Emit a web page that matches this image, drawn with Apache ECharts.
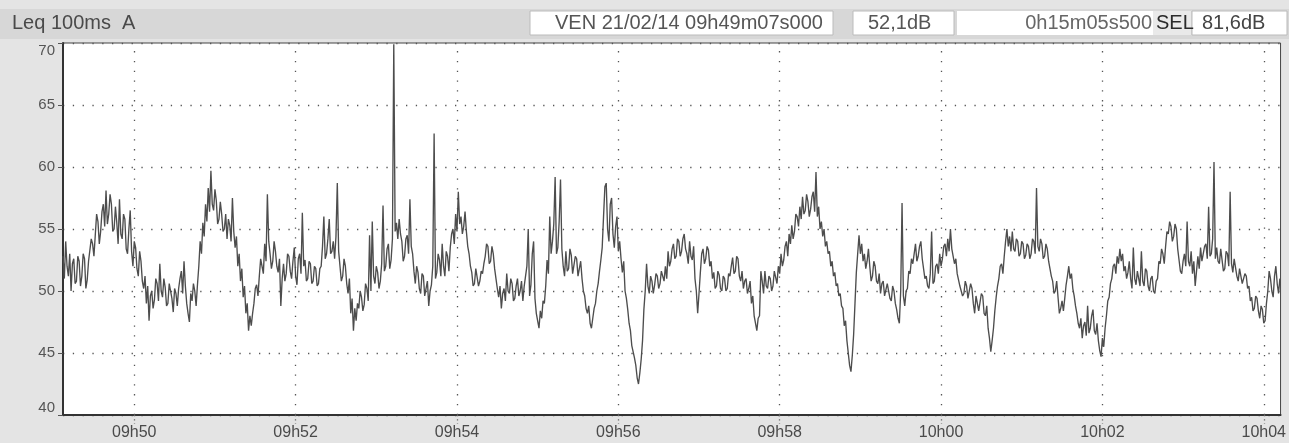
<!DOCTYPE html>
<html><head><meta charset="utf-8">
<script src="https://cdn.jsdelivr.net/npm/echarts@6/dist/echarts.min.js"></script>
<style>html,body{margin:0;padding:0;background:#e4e4e4;}#c{width:1289px;height:443px;}</style>
</head><body><div id="c"></div><script>
// Leq 100ms A, seconds since 09h49m07s000, read every 1 s from the picture
const stepSec = 1;
const durationSec = 905.5;
const leq = [
52.8,51.0,54.0,52.0,51.2,53.0,50.0,52.2,52.6,50.6,50.8,52.8,52.4,50.4,51.2,53.0,52.6,50.2,50.9,52.4,
52.5,54.2,53.8,52.8,54.5,56.2,55.6,53.8,54.8,56.4,57.0,55.2,58.1,55.4,56.2,57.8,57.0,54.8,55.0,56.8,
55.5,53.8,57.4,54.6,54.2,56.2,55.8,53.4,53.0,55.0,56.5,53.2,52.0,54.0,53.5,51.8,51.2,53.2,52.4,50.8,
50.2,51.2,49.0,50.4,47.6,49.6,50.0,48.6,49.3,51.0,50.6,49.2,52.2,50.0,49.5,51.0,50.3,48.8,49.0,50.6,
50.5,49.4,48.3,50.2,49.8,48.8,50.2,51.0,51.6,49.8,52.4,50.4,49.0,48.2,47.5,49.8,49.2,50.6,50.0,48.8,
50.5,52.0,54.0,53.0,55.5,54.4,57.0,55.6,58.3,56.4,59.7,57.0,56.5,58.2,57.3,55.4,55.8,57.2,56.2,54.8,
55.0,56.2,54.2,55.8,55.3,54.0,57.5,54.8,53.5,54.4,52.0,53.0,50.8,51.8,49.5,50.4,48.2,49.0,46.8,48.0,
47.2,48.2,49.0,50.2,50.5,49.6,51.2,52.6,52.5,51.4,53.8,52.4,57.8,54.0,53.0,51.8,52.4,54.0,53.2,52.0,
51.5,52.6,48.8,51.0,52.2,50.8,51.4,53.0,52.8,51.6,51.0,52.4,53.5,51.2,50.5,52.6,53.0,51.4,56.3,52.0,
52.5,50.8,51.0,52.4,52.2,50.6,50.8,52.0,51.8,50.4,50.6,51.8,52.0,53.6,56.0,52.6,53.0,54.2,55.8,53.0,
53.2,54.0,52.6,54.4,58.7,53.2,52.0,50.8,51.2,52.6,52.0,50.6,49.8,51.0,48.2,49.4,46.8,48.6,47.6,49.0,
48.6,50.0,49.5,48.4,48.9,50.6,50.2,49.2,54.5,50.0,55.6,51.2,50.6,52.0,51.5,50.2,50.8,52.2,56.9,51.6,
52.0,53.4,53.8,51.8,52.5,54.2,69.9,54.8,55.5,54.2,55.8,54.6,54.0,52.4,52.8,54.2,54.5,53.0,57.4,53.6,
53.0,51.6,50.6,52.0,51.5,50.2,49.8,51.4,51.2,49.6,49.5,50.8,48.8,50.0,50.5,52.0,62.7,51.0,51.5,53.0,
52.5,51.2,53.8,52.0,51.2,53.2,52.8,51.6,53.5,54.6,55.0,53.8,56.2,54.8,58.0,55.4,56.0,54.6,55.2,56.4,
54.8,53.6,53.0,52.0,51.5,50.4,50.6,51.8,51.8,50.4,50.8,51.6,51.4,52.2,52.8,53.8,53.6,52.2,52.4,53.6,
53.0,51.8,51.0,50.2,49.5,50.4,48.6,49.8,50.2,49.2,51.4,50.0,49.8,51.0,50.6,49.2,49.4,50.4,51.0,49.6,
50.0,50.8,49.2,50.4,50.4,52.0,55.0,49.6,50.5,53.0,54.0,49.4,48.2,47.6,47.0,48.4,47.8,49.2,49.0,50.4,
52.5,51.4,56.0,53.0,54.0,55.4,59.2,53.0,53.5,55.6,59.0,53.4,52.0,51.2,53.2,51.6,51.8,53.4,52.9,51.4,
51.5,52.8,52.6,51.2,51.8,52.4,51.0,50.0,49.6,48.6,48.2,48.8,47.4,47.0,47.8,48.6,49.0,50.0,50.6,51.6,
52.5,53.5,56.0,58.4,58.7,55.0,54.0,57.0,57.5,54.6,53.5,55.2,56.0,53.2,54.0,52.6,51.5,52.4,50.0,49.4,
48.5,47.4,46.8,45.6,45.5,44.6,44.0,43.0,42.5,43.4,44.5,46.0,48.5,50.0,52.2,50.4,49.8,51.2,50.8,49.8,
50.5,51.4,51.2,50.2,50.6,51.6,51.5,50.8,52.0,51.0,53.2,52.0,52.4,53.4,53.8,52.6,52.8,54.2,54.0,52.8,
53.2,54.2,54.6,53.4,53.0,52.2,54.0,52.8,52.5,53.6,51.0,50.0,48.2,49.8,51.5,53.0,53.4,52.2,52.6,53.6,
53.3,52.0,52.4,51.0,51.5,50.2,50.4,51.6,51.3,50.2,50.0,51.2,51.0,50.0,50.2,51.4,51.2,52.0,52.7,51.4,
51.6,52.8,52.6,51.2,50.8,51.6,50.2,50.8,51.0,49.8,50.2,50.8,49.0,49.6,48.0,47.4,46.8,47.8,48.0,51.6,
50.8,49.8,51.6,50.4,50.2,51.2,51.0,50.0,50.4,51.6,51.5,50.6,52.0,51.4,53.0,52.0,52.5,53.6,54.0,52.8,
54.6,53.8,55.3,54.2,54.8,56.2,56.0,55.2,56.8,55.8,57.6,56.2,56.5,57.8,57.2,56.0,56.6,57.6,58.0,56.4,
59.6,56.0,56.8,55.0,55.6,54.4,55.0,53.6,54.0,53.0,53.2,52.0,52.4,51.2,51.5,50.4,50.6,49.6,49.8,48.8,
48.6,47.2,47.6,46.0,45.0,44.0,43.5,44.8,46.5,49.0,51.5,53.0,54.5,53.0,53.8,52.4,53.0,51.8,52.4,53.4,
52.0,50.8,51.2,52.4,52.0,50.8,50.6,51.4,49.8,50.6,50.8,49.6,49.6,50.6,50.5,49.4,49.2,50.4,50.0,49.0,
48.5,47.8,47.4,50.0,57.1,49.6,48.8,50.0,50.2,51.6,51.4,52.6,52.2,53.0,53.8,52.4,52.8,53.6,54.0,52.6,
52.5,51.0,51.2,50.4,50.2,51.4,54.8,50.6,50.8,52.0,52.2,51.4,53.0,52.0,52.6,53.6,53.8,52.8,54.2,53.2,
55.0,53.4,53.5,52.2,52.6,51.4,51.5,50.4,50.5,49.6,49.8,50.8,50.4,49.4,49.5,50.6,50.2,49.0,48.2,49.6,
49.5,48.4,48.3,49.8,49.6,48.2,48.0,48.8,47.0,46.2,45.1,46.0,47.0,48.4,49.5,50.4,51.0,52.0,52.2,51.4,
52.8,54.0,55.0,53.6,54.4,53.2,54.8,53.4,53.2,54.2,54.0,52.8,53.0,54.0,53.8,52.6,52.9,53.8,53.6,52.6,
53.0,54.2,54.0,53.0,58.3,53.6,53.2,54.2,53.8,52.6,52.8,53.8,53.4,52.4,51.8,51.2,50.8,49.8,50.0,50.8,
49.5,48.2,48.6,49.2,48.4,49.4,50.5,51.2,52.0,51.0,51.4,50.2,49.6,48.8,48.2,47.4,47.0,47.8,46.2,47.2,
47.5,46.4,48.8,46.6,47.0,48.0,48.5,46.8,46.5,47.4,46.0,45.2,44.7,46.2,45.5,47.0,48.0,49.2,49.5,50.6,
51.0,52.0,52.2,51.4,52.8,52.2,53.4,52.4,53.0,51.6,52.0,51.0,51.5,52.4,51.0,50.2,53.5,51.0,50.5,51.6,
51.5,50.4,53.2,50.8,50.4,51.8,51.6,50.4,50.0,51.0,51.2,50.0,49.8,50.8,51.0,52.4,52.2,53.4,53.0,52.2,
53.6,54.8,54.6,55.6,55.2,54.0,54.4,55.4,55.0,53.4,52.5,51.6,51.4,52.4,53.0,52.0,55.6,52.4,52.0,53.2,
51.4,52.4,50.4,51.6,52.8,51.8,53.5,52.4,52.5,53.6,53.8,52.6,56.8,52.8,53.0,54.2,60.4,52.6,53.5,52.4,
52.2,53.4,53.3,51.6,51.8,53.2,53.0,52.0,58.0,52.2,51.5,52.6,52.6,51.2,50.8,51.8,51.8,50.6,50.5,51.4,
51.2,50.2,50.4,49.2,49.5,48.4,48.6,49.6,49.4,48.4,47.8,48.8,48.5,47.4,47.6,49.0,50.0,51.6,51.0,50.0,
49.5,51.2,52.0,50.6,49.8,51.0
];
const tickSeconds = [53,173,293,413,533,653,773,893];
const tickLabels = ['09h50','09h52','09h54','09h56','09h58','10h00','10h02','10h04'];
const yMin = 40, yMax = 70, yStep = 5;
const headerLeft = 'Leq 100ms  A';
const headerDate = 'VEN 21/02/14 09h49m07s000';
const headerLeq = '52,1dB';
const headerDur = '0h15m05s500';
const headerSelLabel = 'SEL';
const headerSel = '81,6dB';

const FONT = "'Liberation Sans', Arial, sans-serif";
const chart = echarts.init(document.getElementById('c'), null, {renderer:'canvas'});
const seriesData = leq.map((v,i)=>[i*stepSec, v]);
const dotted = {color:'#555', width:1.3, type:[1.3,8.5]};
chart.setOption({
  animation:false,
  backgroundColor:'#e4e4e4',
  grid:{left:63, right:4, top:43, bottom:28, show:true, backgroundColor:'#ffffff', borderColor:'#444', borderWidth:1},
  xAxis:{
    type:'value', min:0, max:durationSec,
    axisLine:{show:true, onZero:false, lineStyle:{color:'#333', width:2}},
    axisTick:{show:true, customValues:tickSeconds, length:9, lineStyle:{color:'#666', width:1.3, type:[1.3,3]}},
    axisLabel:{customValues:tickSeconds, formatter:v=>{const k=tickSeconds.indexOf(Math.round(v));return k>=0?tickLabels[k]:'';},
      fontSize:16, color:'#4a4a4a', fontFamily:FONT, margin:10},
    splitLine:{show:false}
  },
  yAxis:{
    type:'value', min:yMin, max:yMax, interval:yStep,
    axisLine:{show:true, lineStyle:{color:'#333', width:2}},
    axisTick:{show:true, length:5, lineStyle:{color:'#555'}},
    axisLabel:{fontSize:15, color:'#555', fontFamily:FONT, margin:8,
      verticalAlignMinLabel:'bottom', verticalAlignMaxLabel:'top'},
    splitLine:{show:true, lineStyle:dotted}
  },
  series:[{
    type:'line', data:seriesData, showSymbol:false, symbol:'none',
    lineStyle:{color:'#4d4d4d', width:1.35}, z:3,
    markLine:{silent:true, symbol:'none', label:{show:false}, lineStyle:dotted,
      data:tickSeconds.map(s=>({xAxis:s})), animation:false, z:1}
  }],
  graphic:[
    {type:'rect', shape:{x:0,y:9,width:1289,height:30}, style:{fill:'#d7d7d7'}, z:10},
    {type:'rect', shape:{x:530,y:11,width:303,height:24}, style:{fill:'#ffffff', stroke:'#bbb', lineWidth:1}, z:11},
    {type:'rect', shape:{x:853,y:11,width:101,height:24}, style:{fill:'#ffffff', stroke:'#bbb', lineWidth:1}, z:11},
    {type:'rect', shape:{x:957,y:11,width:196,height:24}, style:{fill:'#ffffff'}, z:11},
    {type:'rect', shape:{x:1153,y:11,width:38,height:24}, style:{fill:'#e9e9e9'}, z:11},
    {type:'rect', shape:{x:1192,y:11,width:95,height:24}, style:{fill:'#ffffff', stroke:'#bbb', lineWidth:1}, z:11},
    {type:'text', x:12, y:23, style:{text:headerLeft, font:'20px '+FONT, fill:'#4a4a4a', textVerticalAlign:'middle'}, z:12},
    {type:'text', x:555, y:23, style:{text:headerDate, font:'20px '+FONT, fill:'#555', textVerticalAlign:'middle'}, z:12},
    {type:'text', x:868, y:23, style:{text:headerLeq, font:'20px '+FONT, fill:'#555', textVerticalAlign:'middle'}, z:12},
    {type:'text', x:1152, y:23, style:{text:headerDur, font:'20px '+FONT, fill:'#666', textAlign:'right', textVerticalAlign:'middle'}, z:12},
    {type:'text', x:1156, y:23, style:{text:headerSelLabel, font:'20px '+FONT, fill:'#2a2a2a', textVerticalAlign:'middle'}, z:12},
    {type:'text', x:1202, y:23, style:{text:headerSel, font:'20px '+FONT, fill:'#444', textVerticalAlign:'middle'}, z:12}
  ]
});
</script></body></html>
